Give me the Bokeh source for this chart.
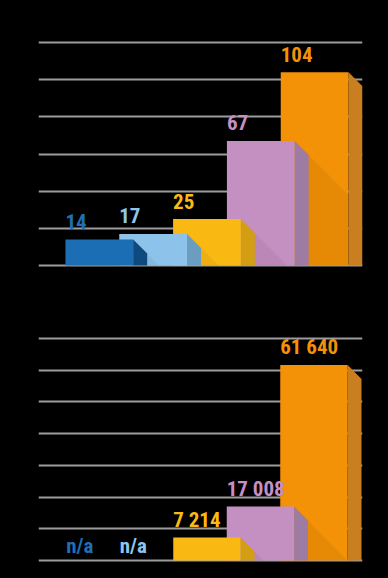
from bokeh.plotting import figure
from bokeh.layouts import column
from bokeh.models import Range1d, FixedTicker, ColumnDataSource
from bokeh.core.properties import value
from bokeh.embed import file_html
from bokeh.resources import INLINE

# ---------------- data ----------------
categories = ["1", "2", "3", "4", "5"]
top_values = [14, 17, 25, 67, 104]
top_labels = ["14", "17", "25", "67", "104"]
top_ticks = [0, 20, 40, 60, 80, 100, 120]

bottom_values = [None, None, 7214, 17008, 61640]
bottom_labels = ["n/a", "n/a", "7 214", "17 008", "61 640"]
bottom_ticks = [0, 10000, 20000, 30000, 40000, 50000, 60000, 70000]

front_colors = ["#1b6db4", "#8dc3ea", "#fab912", "#c48fc1", "#f39207"]
side_colors = ["#0e4a7d", "#6b9dc1", "#d49e12", "#9d7ba2", "#c97e1f"]
label_colors = ["#1f6fb6", "#8ec6ec", "#fbbb14", "#c690c4", "#f39208"]

FONT = "Roboto Condensed, Liberation Sans Narrow, Arial Narrow, DejaVu Sans Condensed, sans-serif"
W = 388
SLOT = 54.0      # px between bar starts
BAR_PX = 68.0    # front face width
DEPTH_PX = 14.0  # 3d depth
GRID_COLOR = "#9c9c9c"


def panel(values, labels, ticks, height, mb_top, mb_bottom, mb_left, mb_right,
          grid_top_px, grid_bot_px, bar0_px, label_gap, na_gap):
    fw = W - mb_left - mb_right
    fh = height - mb_top - mb_bottom
    vmax = ticks[-1]
    s = (grid_bot_px - grid_top_px) / vmax
    y_start = -(fh - grid_bot_px) / s
    y_end = vmax + grid_top_px / s
    x_start = -bar0_px / SLOT
    x_end = x_start + fw / SLOT
    bw = BAR_PX / SLOT
    dx = DEPTH_PX / SLOT
    dy = DEPTH_PX / s

    p = figure(width=W, height=height, output_backend="svg", toolbar_location=None,
               x_range=Range1d(x_start, x_end), y_range=Range1d(y_start, y_end),
               x_axis_location=None, y_axis_location=None,
               min_border_top=mb_top, min_border_bottom=mb_bottom,
               min_border_left=mb_left, min_border_right=mb_right,
               background_fill_color="black", border_fill_color="black")
    p.outline_line_color = None
    p.xgrid.visible = False
    p.ygrid.ticker = FixedTicker(ticks=ticks)
    p.ygrid.grid_line_color = GRID_COLOR
    p.ygrid.grid_line_width = 2

    n = len(values)
    for i in range(n - 1, -1, -1):
        v = values[i]
        if v is None:
            continue
        left = i
        right = i + bw
        # front face
        p.quad(left=[left], right=[right], bottom=[0], top=[v],
               fill_color=front_colors[i], line_color=None)
        # side face
        p.patch(x=[right, right + dx, right + dx, right],
                y=[v, v - dy, 0, 0],
                fill_color=side_colors[i], line_color=None)
        # soft shadow cast by the previous (front) bar onto this one
        if i - 1 >= 0 and values[i - 1] is not None:
            pv = values[i - 1]
            pr = (i - 1) + bw
            k_max = (right - pr) * SLOT
            k_base = pv * s
            if k_base <= k_max:
                xs = [pr, pr + k_base / SLOT, pr]
                ys = [pv, 0, 0]
            else:
                xs = [pr, right, right, pr]
                ys = [pv, pv - k_max / s, 0, 0]
            p.patch(x=xs, y=ys, fill_color="black", fill_alpha=0.05, line_color=None)

    lx, ly, lt, lc = [], [], [], []
    for i, (v, lab) in enumerate(zip(values, labels)):
        lx.append(i)
        if v is None:
            ly.append(na_gap / s)
        else:
            ly.append(v + label_gap / s)
        lt.append(lab)
        lc.append(label_colors[i])
    src = ColumnDataSource(dict(x=lx, y=ly, text=lt, color=lc))
    p.text(x="x", y="y", text="text", text_color="color", source=src,
           text_align="left", text_baseline="alphabetic",
           text_font=value(FONT), text_font_style="bold", text_font_size="21px")
    return p


top = panel(top_values, top_labels, top_ticks, height=290,
            mb_top=30, mb_bottom=15, mb_left=37, mb_right=26,
            grid_top_px=12, grid_bot_px=235, bar0_px=27, label_gap=18, na_gap=15)
bottom = panel(bottom_values, bottom_labels, bottom_ticks, height=286,
               mb_top=36, mb_bottom=10, mb_left=38, mb_right=23,
               grid_top_px=12, grid_bot_px=234, bar0_px=28, label_gap=18, na_gap=15)

layout = column(top, bottom, spacing=0, styles={"background-color": "black"})

html = file_html(layout, INLINE)
html = html.replace("</head>",
                    "<style>html,body{background:#000;margin:0;padding:0;overflow:hidden;}</style></head>", 1)
open("out.html", "w").write(html)
